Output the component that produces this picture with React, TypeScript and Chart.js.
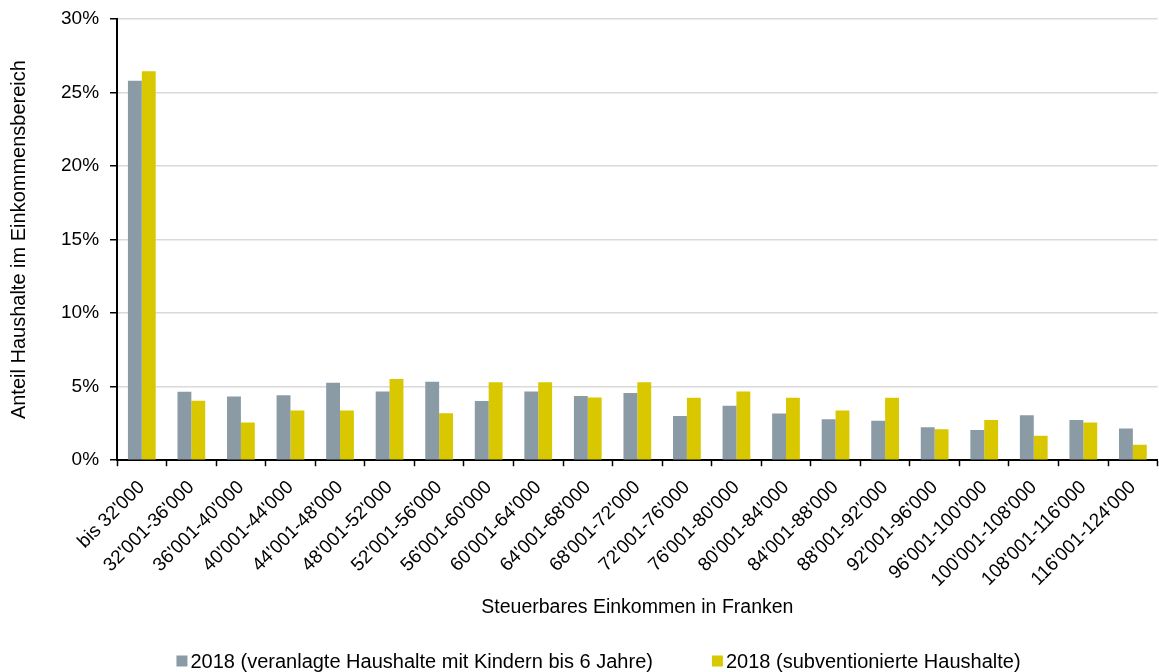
import { useEffect, useRef } from 'react';
import { Chart, registerables } from 'chart.js';

Chart.register(...registerables);

const FONT = "'Liberation Sans', Arial, Helvetica, sans-serif";

// Income brackets (taxable income in CHF)
const categories = [
  "bis 32'000",
  "32'001-36'000",
  "36'001-40'000",
  "40'001-44'000",
  "44'001-48'000",
  "48'001-52'000",
  "52'001-56'000",
  "56'001-60'000",
  "60'001-64'000",
  "64'001-68'000",
  "68'001-72'000",
  "72'001-76'000",
  "76'001-80'000",
  "80'001-84'000",
  "84'001-88'000",
  "88'001-92'000",
  "92'001-96'000",
  "96'001-100'000",
  "100'001-108'000",
  "108'001-116'000",
  "116'001-124'000",
];

// Share of households per bracket, in percent
const assessedHouseholds = [
  25.8, 4.66, 4.34, 4.41, 5.27, 4.68, 5.34, 4.02, 4.68, 4.36, 4.57,
  3.01, 3.7, 3.17, 2.79, 2.69, 2.24, 2.05, 3.06, 2.74, 2.15,
];
const subsidisedHouseholds = [
  26.45, 4.04, 2.56, 3.38, 3.38, 5.53, 3.2, 5.3, 5.3, 4.27, 5.3,
  4.25, 4.68, 4.25, 3.38, 4.25, 2.1, 2.74, 1.67, 2.56, 1.05,
];

const seriesLabels = [
  '2018 (veranlagte Haushalte mit Kindern bis 6 Jahre)',
  '2018 (subventionierte Haushalte)',
];
const seriesColors = ['#8a9ba6', '#d9c800'];

const yMin = 0;
const yMax = 30;
const yStep = 5;

const xTitle = 'Steuerbares Einkommen in Franken';
const yTitle = 'Anteil Haushalte im Einkommensbereich';

// Legend drawn below the axis title: square marker followed by its label
const bottomLegend = {
  id: 'bottomLegend',
  afterDraw(chart: any) {
    const { ctx } = chart;
    ctx.save();
    ctx.font = `20px ${FONT}`;
    ctx.textBaseline = 'middle';
    ctx.textAlign = 'left';
    const box = 11;
    const textGap = 3;
    const itemGap = 59;
    const items = chart.data.datasets.map((ds: any) => ({
      label: ds.label as string,
      color: ds.backgroundColor as string,
      w: ctx.measureText(ds.label).width,
    }));
    const total =
      items.reduce((s: number, it: any) => s + box + textGap + it.w, 0) +
      itemGap * (items.length - 1);
    let x = chart.width / 2 + 19 - total / 2;
    const y = chart.height - 11;
    for (const it of items) {
      ctx.fillStyle = it.color;
      ctx.fillRect(x, y - box / 2, box, box);
      x += box + textGap;
      ctx.fillStyle = '#000';
      ctx.fillText(it.label, x, y + 1);
      x += it.w + itemGap;
    }
    ctx.restore();
  },
};

export default function App() {
  const canvasRef = useRef<HTMLCanvasElement | null>(null);

  useEffect(() => {
    document.documentElement.style.overflow = 'hidden';
    document.body.style.margin = '0';
    const canvas = canvasRef.current;
    if (!canvas) return;

    const chart = new Chart(canvas, {
      type: 'bar',
      data: {
        labels: categories,
        datasets: [
          {
            label: seriesLabels[0],
            data: assessedHouseholds,
            backgroundColor: seriesColors[0],
            borderWidth: 0,
            categoryPercentage: 0.56,
            barPercentage: 1,
          },
          {
            label: seriesLabels[1],
            data: subsidisedHouseholds,
            backgroundColor: seriesColors[1],
            borderWidth: 0,
            categoryPercentage: 0.56,
            barPercentage: 1,
          },
        ],
      },
      options: {
        animation: false,
        responsive: true,
        maintainAspectRatio: false,
        layout: {
          padding: { left: 6, right: 0, top: 4, bottom: 53 },
        },
        plugins: {
          legend: { display: false },
          tooltip: { enabled: false },
        },
        scales: {
          x: {
            offset: true,
            grid: {
              offset: true,
              drawOnChartArea: false,
              drawTicks: true,
              tickLength: 6,
              tickColor: '#000',
              tickWidth: 1.5,
            },
            border: { display: true, color: '#000', width: 2 },
            ticks: {
              color: '#000',
              font: { family: FONT, size: 19 },
              minRotation: 45,
              maxRotation: 45,
              autoSkip: false,
              padding: 10,
            },
            title: {
              display: true,
              text: xTitle,
              color: '#000',
              font: { family: FONT, size: 19.5 },
              padding: { top: -6, bottom: 0 },
            },
          },
          y: {
            min: yMin,
            max: yMax,
            grid: {
              color: '#d9d9d9',
              lineWidth: 1.5,
              drawTicks: true,
              tickLength: 7,
              tickColor: '#000',
              tickWidth: 1.5,
            },
            border: { display: true, color: '#000', width: 2 },
            ticks: {
              stepSize: yStep,
              color: '#000',
              font: { family: FONT, size: 19, lineHeight: 0.84 },
              padding: 11,
              callback: (v: any) => `${v}%`,
            },
            title: {
              display: true,
              text: yTitle,
              color: '#000',
              font: { family: FONT, size: 20 },
              padding: { top: 1, bottom: 19 },
            },
          },
        },
      },
      plugins: [bottomLegend],
    });

    return () => chart.destroy();
  }, []);

  return (
    <div
      style={{
        position: 'fixed',
        left: 0,
        top: 0,
        width: '100vw',
        height: '100vh',
        background: '#fff',
      }}
    >
      <canvas ref={canvasRef} />
    </div>
  );
}
